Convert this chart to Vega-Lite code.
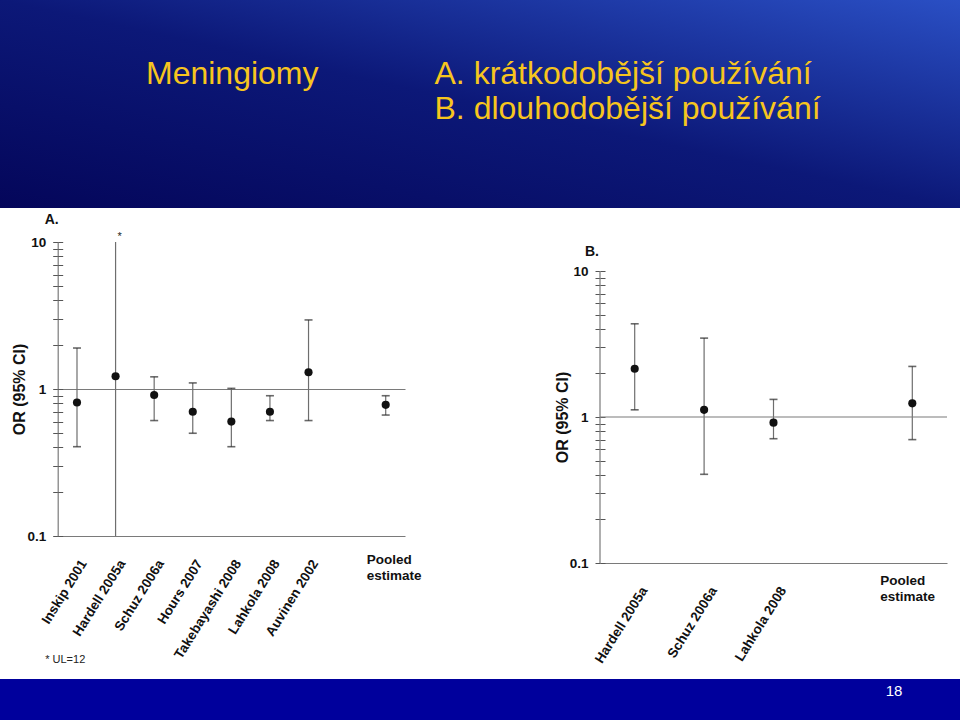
{
  "$schema": "https://vega.github.io/schema/vega-lite/v6.json",
  "padding": 0,
  "background": "#ffffff",
  "datasets": {
    "header": [
      {"label": "Meningiomy", "col": 0, "line": 1},
      {"label": "A. krátkodobější používání", "col": 1, "line": 1},
      {"label": "B. dlouhodobější používání", "col": 1, "line": 2}
    ],
    "a": [
      {"study": "Inskip 2001", "or": 0.81, "lo": 0.405, "hi": 1.9},
      {"study": "Hardell 2005a", "or": 1.22, "lo": 0.1, "hi": 12, "note": "*"},
      {"study": "Schuz 2006a", "or": 0.91, "lo": 0.61, "hi": 1.21},
      {"study": "Hours 2007", "or": 0.7, "lo": 0.5, "hi": 1.1},
      {"study": "Takebayashi 2008", "or": 0.6, "lo": 0.405, "hi": 1.01},
      {"study": "Lahkola 2008", "or": 0.7, "lo": 0.61, "hi": 0.9},
      {"study": "Auvinen 2002", "or": 1.3, "lo": 0.61, "hi": 2.95},
      {"study": "Pooled estimate", "or": 0.78, "lo": 0.665, "hi": 0.9}
    ],
    "b": [
      {"study": "Hardell 2005a", "or": 2.14, "lo": 1.12, "hi": 4.35},
      {"study": "Schuz 2006a", "or": 1.12, "lo": 0.405, "hi": 3.47},
      {"study": "Lahkola 2008", "or": 0.915, "lo": 0.71, "hi": 1.32},
      {"study": "Pooled estimate", "or": 1.24, "lo": 0.7, "hi": 2.22}
    ],
    "footer": [{"page": 18}]
  },
  "columns": 1,
  "align": "none",
  "spacing": 5,
  "concat": [
    {
      "width": 960,
      "height": 208,
      "view": {
        "stroke": null,
        "fill": {"gradient": "linear", "x1": 0, "y1": 1, "x2": 1, "y2": 0,
          "stops": [
            {"offset": 0, "color": "#04065a"},
            {"offset": 0.5, "color": "#0c1878"},
            {"offset": 1, "color": "#2a4fc4"}
          ]}
      },
      "data": {"name": "header"},
      "mark": {"type": "text", "align": "left", "baseline": "alphabetic", "fontSize": 32, "color": "#f7c51e"},
      "encoding": {
        "x": {"field": "col", "type": "quantitative", "scale": {"domain": [-0.50607, 2.82149], "nice": false, "zero": false}, "axis": null},
        "y": {"field": "line", "type": "quantitative", "scale": {"domain": [-1.4, 4.542857], "reverse": true, "nice": false, "zero": false}, "axis": null},
        "text": {"field": "label", "type": "nominal"}
      }
    },
    {
      "columns": 1,
      "align": "none",
      "spacing": 14,
      "concat": [
        {
          "spacing": 132,
          "hconcat": [
            {
              "width": 405,
              "height": 294,
              "title": {"text": "A.", "dx": 44.7, "offset": 4},
              "data": {"name": "a"},
              "layer": [
                {
                  "mark": {"type": "rule", "color": "#6e6e6e", "strokeWidth": 1.2},
                  "encoding": {
                    "x": {
                      "field": "study", "type": "nominal", "sort": null,
                      "scale": {"type": "band", "paddingInner": 0, "paddingOuter": 0, "range": [57.7, 405],
                        "domain": ["Inskip 2001", "Hardell 2005a", "Schuz 2006a", "Hours 2007", "Takebayashi 2008", "Lahkola 2008", "Auvinen 2002", " ", "Pooled estimate"]},
                      "axis": {
                        "orient": "bottom",
                        "title": "* UL=12", "titleX": 44.7, "titleY": 123, "titleAlign": "left", "titleBaseline": "middle",
                        "titleFontSize": 11, "titleFontWeight": "normal", "titleColor": "#222",
                        "labelAngle": -58, "labelAlign": "right", "labelBaseline": "top", "labelPadding": 21, "labelOffset": 1,
                        "labelFontSize": 13.5, "labelFontWeight": "bold", "labelColor": "#111",
                        "labelExpr": "datum.label == 'Pooled estimate' ? '' : datum.label",
                        "ticks": false, "tickSize": 0, "domainColor": "#7a7a7a", "domainWidth": 1.2,
                        "labelOverlap": false, "labelLimit": 0, "labelFlush": false
                      }
                    },
                    "y": {
                      "field": "lo", "type": "quantitative",
                      "scale": {"type": "log", "domain": [0.1, 10], "clamp": true, "nice": false},
                      "axis": {
                        "orient": "left", "offset": -57.7,
                        "values": [0.1, 0.2, 0.3, 0.4, 0.5, 0.6, 0.7, 0.8, 0.9, 1, 2, 3, 4, 5, 6, 7, 8, 9, 10],
                        "labelExpr": "datum.value == 0.1 ? '0.1' : datum.value == 1 ? '1' : datum.value == 10 ? '10' : ''",
                        "labelFontSize": 13.5, "labelFontWeight": "bold", "labelColor": "#111", "labelPadding": 7,
                        "tickSize": 5, "tickColor": "#555", "tickWidth": 1,
                        "domainColor": "#7a7a7a", "domainWidth": 1.2,
                        "labelOverlap": false, "labelFlush": false, "labelBound": false,
                        "title": "OR (95% CI)", "titleFontSize": 16, "titleFontWeight": "bold", "titleColor": "#111",
                        "titleX": -38, "titleY": 147, "titleAngle": -90, "titleBaseline": "middle", "titleAlign": "center"
                      }
                    },
                    "y2": {"field": "hi"}
                  }
                },
                {
                  "transform": [{"filter": "datum.hi <= 10"}],
                  "mark": {"type": "tick", "color": "#2a2a2a", "size": 8, "thickness": 1.6},
                  "encoding": {
                    "x": {"field": "study", "type": "nominal"},
                    "y": {"field": "hi", "type": "quantitative",
                      "axis": {"orient": "left", "offset": -57.7, "values": [0.1, 0.2, 0.3, 0.4, 0.5, 0.6, 0.7, 0.8, 0.9, 1, 2, 3, 4, 5, 6, 7, 8, 9, 10],
                        "tickSize": -5, "tickColor": "#555", "tickWidth": 1, "labels": false, "domain": false, "title": null, "grid": false}}
                  }
                },
                {
                  "transform": [{"filter": "datum.lo > 0.1"}],
                  "mark": {"type": "tick", "color": "#2a2a2a", "size": 8, "thickness": 1.6},
                  "encoding": {
                    "x": {"field": "study", "type": "nominal"},
                    "y": {"field": "lo", "type": "quantitative",
                      "axis": {"orient": "left", "values": [1], "grid": true, "gridColor": "#7a7a7a", "gridWidth": 1.2, "gridOpacity": 1,
                        "ticks": false, "labels": false, "domain": false, "title": null}}
                  }
                },
                {
                  "mark": {"type": "point", "filled": true, "size": 66, "color": "#111111", "opacity": 1},
                  "encoding": {
                    "x": {"field": "study", "type": "nominal"},
                    "y": {"field": "or", "type": "quantitative", "axis": null}
                  }
                },
                {
                  "transform": [{"filter": "datum.note != null"}],
                  "mark": {"type": "text", "fontSize": 11, "dx": 4, "dy": -2, "baseline": "alphabetic", "color": "#222"},
                  "encoding": {
                    "x": {"field": "study", "type": "nominal"},
                    "y": {"field": "hi", "type": "quantitative", "axis": null},
                    "text": {"field": "note", "type": "nominal"}
                  }
                },
                {
                  "transform": [{"filter": "datum.study == 'Pooled estimate'"}],
                  "mark": {"type": "text", "lineBreak": " ", "align": "left", "baseline": "top", "dx": -19, "dy": 17,
                    "fontSize": 13.5, "fontWeight": "bold", "lineHeight": 16, "color": "#111"},
                  "encoding": {
                    "x": {"field": "study", "type": "nominal"},
                    "y": {"datum": 0.1, "type": "quantitative", "axis": null},
                    "text": {"field": "study", "type": "nominal"}
                  }
                }
              ],
              "resolve": {"axis": {"y": "independent"}}
            },
            {
              "width": 347,
              "height": 321,
              "title": {"text": "B.", "dx": -15, "offset": 4, "dy": 21},
              "data": {"name": "b"},
              "layer": [
                {
                  "mark": {"type": "rule", "color": "#6e6e6e", "strokeWidth": 1.2},
                  "encoding": {
                    "x": {
                      "field": "study", "type": "nominal", "sort": null,
                      "scale": {"type": "band", "paddingInner": 0, "paddingOuter": 0,
                        "domain": ["Hardell 2005a", "Schuz 2006a", "Lahkola 2008", " ", "Pooled estimate"]},
                      "axis": {
                        "orient": "bottom",
                        "title": null,
                        "labelAngle": -58, "labelAlign": "right", "labelBaseline": "top", "labelPadding": 21, "labelOffset": 4,
                        "labelFontSize": 13.5, "labelFontWeight": "bold", "labelColor": "#111",
                        "labelExpr": "datum.label == 'Pooled estimate' ? '' : datum.label",
                        "ticks": false, "tickSize": 0, "domainColor": "#7a7a7a", "domainWidth": 1.2,
                        "labelOverlap": false, "labelLimit": 0, "labelFlush": false
                      }
                    },
                    "y": {
                      "field": "lo", "type": "quantitative",
                      "scale": {"type": "log", "domain": [0.1, 15.8], "clamp": true, "nice": false},
                      "axis": {
                        "orient": "left",
                        "values": [0.1, 0.2, 0.3, 0.4, 0.5, 0.6, 0.7, 0.8, 0.9, 1, 2, 3, 4, 5, 6, 7, 8, 9, 10],
                        "labelExpr": "datum.value == 0.1 ? '0.1' : datum.value == 1 ? '1' : datum.value == 10 ? '10' : ''",
                        "labelFontSize": 13.5, "labelFontWeight": "bold", "labelColor": "#111", "labelPadding": 7,
                        "tickSize": 5, "tickColor": "#555", "tickWidth": 1,
                        "domain": false,
                        "labelOverlap": false, "labelFlush": false, "labelBound": false,
                        "title": "OR (95% CI)", "titleFontSize": 16, "titleFontWeight": "bold", "titleColor": "#111",
                        "titleX": -38, "titleY": 175, "titleAngle": -90, "titleBaseline": "middle", "titleAlign": "center"
                      }
                    },
                    "y2": {"field": "hi"}
                  }
                },
                {
                  "data": {"values": [{}]},
                  "mark": {"type": "rule", "color": "#7a7a7a", "strokeWidth": 1.2},
                  "encoding": {
                    "y": {"datum": 1, "type": "quantitative",
                      "axis": {"orient": "left", "values": [0.1, 0.2, 0.3, 0.4, 0.5, 0.6, 0.7, 0.8, 0.9, 1, 2, 3, 4, 5, 6, 7, 8, 9, 10],
                        "tickSize": -5, "tickColor": "#555", "tickWidth": 1, "labels": false, "domain": false, "title": null, "grid": false}}
                  }
                },
                {
                  "data": {"values": [{}]},
                  "mark": {"type": "rule", "color": "#7a7a7a", "strokeWidth": 1.2},
                  "encoding": {
                    "x": {"datum": "Hardell 2005a", "type": "nominal", "bandPosition": 0},
                    "y": {"datum": 0.1, "type": "quantitative", "axis": null},
                    "y2": {"datum": 10}
                  }
                },
                {
                  "mark": {"type": "tick", "color": "#2a2a2a", "size": 8, "thickness": 1.6},
                  "encoding": {
                    "x": {"field": "study", "type": "nominal"},
                    "y": {"field": "hi", "type": "quantitative", "axis": null}
                  }
                },
                {
                  "mark": {"type": "tick", "color": "#2a2a2a", "size": 8, "thickness": 1.6},
                  "encoding": {
                    "x": {"field": "study", "type": "nominal"},
                    "y": {"field": "lo", "type": "quantitative", "axis": null}
                  }
                },
                {
                  "mark": {"type": "point", "filled": true, "size": 66, "color": "#111111", "opacity": 1},
                  "encoding": {
                    "x": {"field": "study", "type": "nominal"},
                    "y": {"field": "or", "type": "quantitative", "axis": null}
                  }
                },
                {
                  "transform": [{"filter": "datum.study == 'Pooled estimate'"}],
                  "mark": {"type": "text", "lineBreak": " ", "align": "left", "baseline": "top", "dx": -32, "dy": 11,
                    "fontSize": 13.5, "fontWeight": "bold", "lineHeight": 16, "color": "#111"},
                  "encoding": {
                    "x": {"field": "study", "type": "nominal"},
                    "y": {"datum": 0.1, "type": "quantitative", "axis": null},
                    "text": {"field": "study", "type": "nominal"}
                  }
                }
              ],
              "resolve": {"axis": {"y": "independent"}}
            }
          ]
        },
        {
          "width": 960,
          "height": 50,
          "view": {"stroke": null, "fill": "#00009c"},
          "data": {"name": "footer"},
          "mark": {"type": "text", "align": "center", "baseline": "middle", "fontSize": 15, "color": "#ffffff", "dy": -13},
          "encoding": {
            "x": {"field": "page", "type": "quantitative", "scale": {"domain": [0, 19.3289], "nice": false, "zero": false}, "axis": null},
            "text": {"field": "page", "type": "quantitative"}
          }
        }
      ]
    }
  ],
  "config": {
    "font": "Liberation Sans",
    "view": {"stroke": null},
    "axis": {"grid": false, "labelFont": "Liberation Sans", "titleFont": "Liberation Sans"},
    "title": {"font": "Liberation Sans", "fontSize": 14, "fontWeight": "bold", "anchor": "start", "frame": "group", "color": "#111"}
  }
}
